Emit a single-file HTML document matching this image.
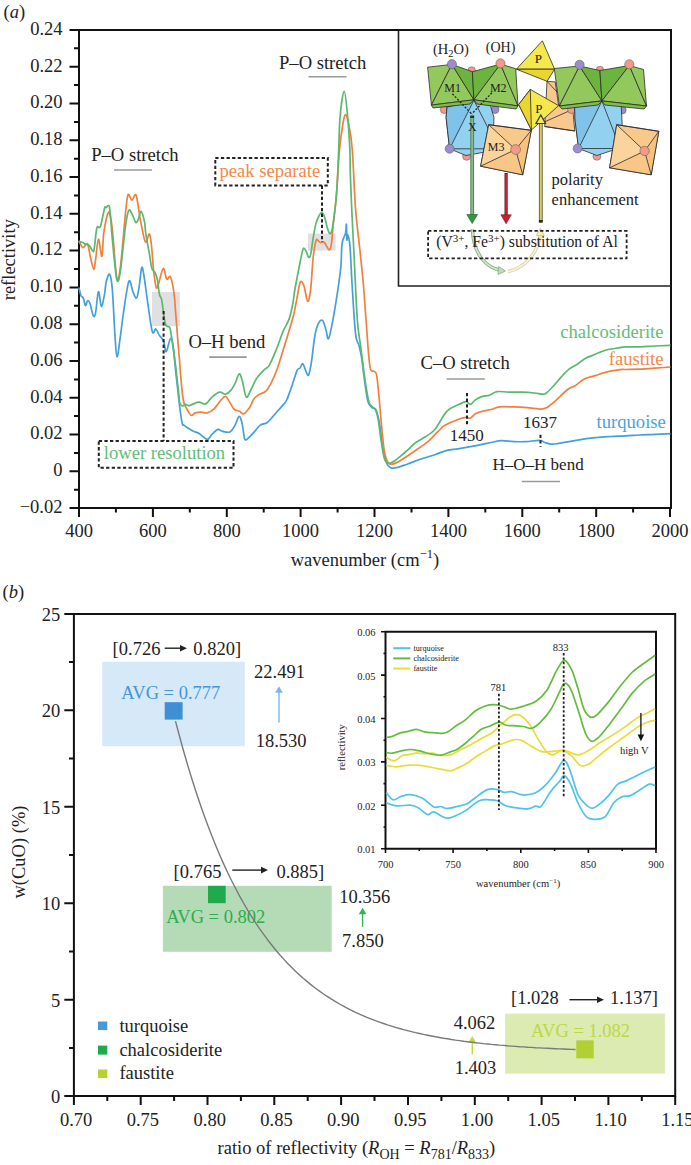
<!DOCTYPE html>
<html><head><meta charset="utf-8"><style>html,body{margin:0;padding:0;background:#fff;width:691px;height:1165px;overflow:hidden}svg{display:block}</style></head>
<body><svg width="691" height="1165" viewBox="0 0 691 1165"><path d="M79,508V30H671V508Z" fill="none" stroke="#111" stroke-width="2"/><path d="M69.5,508.1H79M74,489.7H79M69.5,471.3H79M74,452.9H79M69.5,434.5H79M74,416.1H79M69.5,397.7H79M74,379.4H79M69.5,361H79M74,342.6H79M69.5,324.2H79M74,305.8H79M69.5,287.4H79M74,269H79M69.5,250.6H79M74,232.2H79M69.5,213.8H79M74,195.5H79M69.5,177.1H79M74,158.7H79M69.5,140.3H79M74,121.9H79M69.5,103.5H79M74,85.1H79M69.5,66.7H79M74,48.3H79M69.5,29.9H79M79,508V517M115.9,508V512.5M152.9,508V517M189.8,508V512.5M226.8,508V517M263.7,508V512.5M300.6,508V517M337.6,508V512.5M374.5,508V517M411.5,508V512.5M448.4,508V517M485.3,508V512.5M522.3,508V517M559.2,508V512.5M596.2,508V517M633.1,508V512.5M670,508V517" stroke="#111" stroke-width="2" fill="none"/><g style="font-family:'Liberation Serif',serif;font-size:18.5px" fill="#222"><text x="62.5" y="512.9" text-anchor="end">−0.02</text><text x="62.5" y="476.1" text-anchor="end">0</text><text x="62.5" y="439.3" text-anchor="end">0.02</text><text x="62.5" y="402.5" text-anchor="end">0.04</text><text x="62.5" y="365.8" text-anchor="end">0.06</text><text x="62.5" y="329" text-anchor="end">0.08</text><text x="62.5" y="292.2" text-anchor="end">0.10</text><text x="62.5" y="255.4" text-anchor="end">0.12</text><text x="62.5" y="218.6" text-anchor="end">0.14</text><text x="62.5" y="181.9" text-anchor="end">0.16</text><text x="62.5" y="145.1" text-anchor="end">0.18</text><text x="62.5" y="108.3" text-anchor="end">0.20</text><text x="62.5" y="71.5" text-anchor="end">0.22</text><text x="62.5" y="34.7" text-anchor="end">0.24</text><text x="79" y="536.8" text-anchor="middle">400</text><text x="152.9" y="536.8" text-anchor="middle">600</text><text x="226.8" y="536.8" text-anchor="middle">800</text><text x="300.6" y="536.8" text-anchor="middle">1000</text><text x="374.5" y="536.8" text-anchor="middle">1200</text><text x="448.4" y="536.8" text-anchor="middle">1400</text><text x="522.3" y="536.8" text-anchor="middle">1600</text><text x="596.2" y="536.8" text-anchor="middle">1800</text><text x="670" y="536.8" text-anchor="middle">2000</text></g><text x="3.5" y="17.5" style="font-family:'Liberation Serif',serif;font-size:18.5px" fill="#222">(<tspan font-style="italic">a</tspan>)</text><text transform="translate(15.3,259.7) rotate(-90)" text-anchor="middle" style="font-family:'Liberation Serif',serif;font-size:18.5px" fill="#222">reflectivity</text><text x="290.7" y="565.5" style="font-family:'Liberation Serif',serif;font-size:18.5px" fill="#222">wavenumber (cm<tspan dy="-7.5" font-size="12.5">−1</tspan><tspan dy="7.5">)</tspan></text><rect x="152" y="292" width="27.8" height="34" fill="#e0e0e0"/><rect x="308" y="233.6" width="27.6" height="17" fill="#e0e0e0"/><path d="M78.8,287.4C79.2,288.8 80.3,294.3 81.1,296C81.8,297.7 82.6,296.2 83.3,297.8C84,299.4 84.7,305.1 85.4,305.6C86.1,306.1 86.8,301.3 87.5,300.9C88.2,300.5 88.8,300.6 89.8,303C90.8,305.4 92.2,313.8 93.2,315.5C94.2,317.2 94.6,317.4 95.5,313.4C96.4,309.4 97.4,292.8 98.4,291.7C99.4,290.6 100.4,306.1 101.4,306.5C102.4,306.9 103.7,298.5 104.5,294.3C105.3,290.1 105.4,284.6 106.3,281.3C107.2,278 108.7,273 109.7,274.3C110.7,275.6 111.4,278.8 112.3,289.1C113.2,299.4 114.2,324.7 115,336C115.8,347.3 116.1,356.5 117,356.8C117.9,357.1 119.1,345.2 120.2,337.7C121.3,330.2 122.4,319.8 123.6,311.7C124.8,303.6 126.1,294.2 127.1,289.1C128.1,284 128.7,280.2 129.7,280.8C130.7,281.4 132,289.8 133.2,292.6C134.4,295.4 135.7,299 136.7,297.8C137.7,296.6 138.5,290.6 139.3,285.6C140.1,280.6 140.9,270 141.6,268C142.3,266 142.5,267.4 143.6,273.5C144.7,279.6 146.6,295 148,304.7C149.4,314.4 151,327.6 152.3,331.7C153.6,335.8 154.7,328.4 155.8,329C157,329.6 157.9,333.1 159.2,335.1C160.5,337.1 162.4,338.4 163.6,341.2C164.8,343.9 165,352 166.2,351.6C167.3,351.2 169.3,339.5 170.5,338.6C171.7,337.7 172.2,340.4 173.1,346.4C174,352.4 175,364.8 176.1,374.7C177.2,384.6 178.6,397.9 179.6,406C180.6,414.1 181.5,420.2 182.2,423.4C182.9,426.6 183,424.4 183.9,425.1C184.8,425.8 185.8,426.7 187.4,427.7C189,428.7 191.4,430.2 193.4,431.2C195.4,432.2 197.2,432.4 199.5,433.8C201.8,435.2 205.3,439.2 207.3,439.3C209.3,439.4 209.9,436.4 211.7,434.7C213.4,433 216.1,430 217.8,429.4C219.5,428.8 220.1,430.8 222.1,431.2C224.1,431.6 227.7,433 229.9,432C232.1,431 233.6,427.7 235.1,425.1C236.6,422.5 237.9,416.7 239.1,416.4C240.3,416.1 241.2,419.6 242.1,423.4C243,427.2 243.7,436.6 244.7,439C245.7,441.4 246.8,439.1 248.2,438.1C249.6,437.1 251.4,435.1 253.4,432.9C255.4,430.7 258,426.8 260.3,425.1C262.6,423.4 264.7,424.5 267.3,422.5C269.9,420.5 273.3,415.9 275.9,413C278.5,410.1 281.1,407.3 282.9,405.1C284.7,402.9 285.1,403.5 286.7,400C288.3,396.5 290.8,389.1 292.5,384.2C294.2,379.2 295.9,373 297.1,370.3C298.4,367.6 299,369.1 300,368C301,366.9 301.8,363.1 302.9,363.9C304,364.7 305.4,370.8 306.4,372.6C307.4,374.4 307.9,376.5 308.7,374.9C309.5,373.3 310.3,369.2 311.3,362.9C312.3,356.5 313.6,343.3 314.7,336.8C315.8,330.3 316.9,326.6 318.2,323.8C319.5,321.1 321.2,319.3 322.5,320.3C323.8,321.3 325,326.8 326,329.9C327,332.9 327.4,340.3 328.6,338.6C329.8,336.9 331.6,327 333,319.5C334.4,312 336,302.1 337.3,293.4C338.6,284.7 340,275.7 340.8,267.4C341.6,259.1 341.3,249.1 342.1,243.4C342.9,237.7 344.9,236.2 345.6,233C346.3,229.8 346.2,223.1 346.4,224.3C346.6,225.5 346.7,238.3 346.9,240C347.1,241.7 347.2,233.5 347.7,234.7C348.2,235.8 349.3,238.6 350,246.9C350.7,255.2 351.2,270.3 352.1,284.7C353,299.1 354.4,323.3 355.5,333.4C356.6,343.5 358,341.4 359,345.5C360,349.6 360.7,351.8 361.6,357.7C362.5,363.6 363.5,373.5 364.6,380.8C365.7,388.1 366.7,397.2 368,401.7C369.3,406.2 371.1,406.5 372.4,407.8C373.7,409.1 374.6,407.1 375.8,409.5C377,411.9 378.1,416.3 379.3,422.5C380.5,428.7 381.6,440.1 382.8,446.8C384,453.5 385,459 386.3,462.5C387.6,466 388.9,466.8 390.6,467.7C392.3,468.6 393.9,468.3 396.7,467.7C399.4,467.1 403.1,465.6 407.1,464.2C411.2,462.8 416.4,460.6 421,459C425.6,457.4 430.6,456.1 434.9,454.7C439.2,453.2 442.9,451.3 447,450.3C451.1,449.3 453.9,449.5 459.2,448.6C464.5,447.7 473.6,446.1 478.9,445.1C484.2,444.1 487.2,443.2 491,442.5C494.8,441.8 497.7,440.8 501.5,440.7C505.3,440.6 509.6,441.5 513.6,441.6C517.6,441.8 521.4,441.8 525.8,441.6C530.1,441.4 536.5,440.2 539.7,440.4C542.9,440.5 542.9,441.9 544.9,442.5C546.9,443.1 549.5,444.1 551.8,444.2C554.1,444.3 555.9,443.7 558.8,443.3C561.7,442.9 564.6,442.4 569.2,441.6C573.8,440.8 582,439.4 586.6,438.7C591.2,438 592.6,437.9 596.7,437.5C600.8,437.1 606.4,436.8 611.2,436.5C616,436.2 620.9,436.1 625.7,435.8C630.5,435.6 635.3,435.2 640.1,435C644.9,434.8 649.5,434.5 654.6,434.3C659.7,434.1 667.9,433.7 670.5,433.6" fill="none" stroke="#44a0dc" stroke-width="1.7" stroke-linejoin="round"/><path d="M78.8,240.8C79.5,242 81.5,247.1 82.8,247.7C84,248.3 85.4,244.8 86.3,244.3C87.2,243.9 87.3,242.7 88,245C88.7,247.3 89.6,253.9 90.6,258C91.6,262.1 92.9,269.4 93.8,269.4C94.7,269.4 95,263.1 95.8,258C96.6,252.9 97.4,239.3 98.4,239C99.4,238.7 101,257.3 101.9,256.4C102.8,255.5 102.9,239.9 103.7,233.4C104.5,226.9 105.8,221 106.6,217.5C107.4,214 107.9,213 108.4,212.4C108.9,211.8 109.1,211 109.8,213.9C110.5,216.8 111.2,219.2 112.4,229.8C113.6,240.4 115.4,270.8 116.7,277.3C118,283.8 118.8,279.2 120.2,268.6C121.7,258 124.2,225.6 125.4,213.9C126.6,202.2 126.7,202 127.2,198.7C127.7,195.4 127.8,194.1 128.6,194.3C129.4,194.5 130.8,200 131.9,200.1C133,200.2 134.3,194.9 135.2,194.7C136,194.5 136.2,194.9 137,198.7C137.8,202.5 139.2,213.1 139.9,217.5C140.6,221.9 140.5,220.9 141.4,225C142.3,229.1 144.1,240.5 145.4,242C146.7,243.5 148.4,233.2 149.4,234C150.4,234.8 150.9,240.5 151.6,246.7C152.3,252.9 152.9,264.5 153.7,271.3C154.5,278.1 155.5,285.7 156.3,287.6C157.2,289.5 157.7,286.1 158.8,282.9C160,279.7 161.9,269 163.2,268.4C164.5,267.8 165.7,278 166.8,279.3C167.9,280.6 169,275.6 170,276.4C171,277.2 171.8,280.4 172.6,284.3C173.4,288.2 174.2,295.1 174.7,300C175.2,304.9 174.9,303.9 175.7,313.4C176.4,322.9 178.2,344.9 179.2,356.8C180.2,368.7 180.7,377.4 181.5,385C182.3,392.6 182.6,397.9 183.9,402.5C185.2,407.1 187.8,410.7 189.1,412.9C190.4,415.1 190.7,415.5 191.7,415.5C192.7,415.5 193.6,413.5 195.2,412.9C196.8,412.3 199.3,412.1 201.3,412.1C203.3,412.1 205.1,413.5 207.3,412.9C209.5,412.3 212,410.8 214.3,408.6C216.6,406.4 219.3,401.9 221.2,399.9C223.1,397.9 224.1,396 225.6,396.4C227.1,396.8 228.4,400.3 229.9,402.5C231.4,404.7 232.7,408.1 234.3,409.5C235.9,410.9 237.9,410.5 239.5,411.2C241.1,411.9 242.1,414.5 243.8,413.8C245.5,413.1 248.2,409.3 249.9,406.9C251.6,404.5 252.2,401.2 253.7,399.2C255.2,397.1 256.9,396 258.9,394.6C260.9,393.2 263.8,393.2 265.9,391.1C268,389 269.8,385.8 271.7,381.9C273.6,378 275.6,373.4 277.5,368C279.4,362.6 281.4,355.7 283.3,349.5C285.2,343.3 287.3,336.7 289,330.9C290.7,325.1 292.3,320.3 293.7,314.7C295.1,309.1 296.1,302.4 297.1,297.4C298.1,292.4 298.8,287.2 299.5,284.6C300.2,282 300.7,281.1 301.5,281.5C302.3,281.9 303.3,283.7 304.3,287C305.3,290.3 306.6,300.8 307.7,301.3C308.8,301.8 309.7,297.4 310.6,290C311.5,282.6 312.3,265.2 313.2,257C314.1,248.8 315.2,243.6 316,240.8C316.8,238 317.1,240.1 317.8,240.4C318.5,240.7 319.4,242.2 320.4,242.5C321.4,242.8 322.9,241.5 323.9,242.1C324.9,242.7 325.6,244.7 326.5,246C327.4,247.3 328.3,250 329.1,249.9C329.9,249.8 330.6,248 331.2,245.2C331.8,242.4 332.1,237.3 332.5,233C332.9,228.7 333.2,224.6 333.8,219.1C334.4,213.6 335.4,206.2 336,200C336.6,193.8 336.7,190.4 337.3,182.1C337.9,173.8 338.6,159.8 339.5,150C340.4,140.2 342,129.2 343,123.3C344,117.4 344.7,114.4 345.7,114.6C346.7,114.8 347.7,118.5 348.8,124.4C349.9,130.3 351.2,136 352.3,150C353.4,164 354.2,191.5 355.5,208.2C356.8,224.9 358.6,237.2 359.9,250C361.2,262.8 362.4,273.1 363.4,284.7C364.4,296.3 365.1,307.9 366,319.5C366.9,331.1 367.8,345.8 368.6,354.2C369.4,362.6 369.7,366.8 370.6,369.6C371.5,372.5 373.1,370.3 374.1,371.3C375.1,372.3 375.8,370.8 376.7,375.6C377.6,380.4 378.4,391 379.3,400C380.2,409 381,420.8 381.9,429.5C382.8,438.2 383.5,446.5 384.5,452C385.5,457.5 386.7,460.5 388,462.5C389.3,464.5 390.3,464.5 392.3,464.2C394.3,463.9 396.3,463 400.2,460.7C404.1,458.4 411.2,453.5 415.8,450.3C420.4,447.1 424.1,444.8 427.9,441.6C431.7,438.4 435.5,433.9 438.4,431.2C441.3,428.4 441.8,427.1 445.3,425.1C448.8,423.1 455.7,420.3 459.2,419C462.7,417.7 464.3,417.4 466.1,417.3C467.9,417.2 468.6,418.8 470.2,418.2C471.8,417.6 473.4,415 475.4,413.8C477.4,412.6 479.8,411.9 482.4,411.2C485,410.5 488.1,410.2 491,409.5C493.9,408.8 495.9,407.3 499.7,406.9C503.5,406.5 509,406.8 513.6,406.9C518.2,407 522.9,407.3 527.5,407.7C532.1,408.1 538.2,409.1 541.4,409.1C544.6,409.1 544.5,409 546.9,407.5C549.3,406 552.5,403.3 556,400.3C559.5,397.3 564.5,391.8 567.8,389.3C571.1,386.8 572.8,387.1 575.6,385.4C578.4,383.6 581.5,380.4 584.7,378.8C588,377.2 591.6,376.7 595.1,375.6C598.6,374.5 601.4,373.3 605.5,372.3C609.6,371.3 616.6,370.2 620,369.7C623.4,369.2 622.4,369.6 625.7,369.5C629.1,369.4 635.3,369.4 640.1,369.2C644.9,369 649.5,368.6 654.6,368.2C659.7,367.8 667.9,367.2 670.5,367" fill="none" stroke="#f1803f" stroke-width="1.7" stroke-linejoin="round"/><path d="M78.8,241.7C79.5,241.8 81.7,242.1 82.8,242.5C83.9,242.9 84.4,243.9 85.4,244.3C86.4,244.7 87.7,244.1 88.9,245.1C90.1,246.1 91.5,249.6 92.4,250.3C93.3,251 93.4,253.2 94.1,249.5C94.8,245.8 95.9,232 96.8,228.3C97.7,224.7 98.6,228.1 99.3,227.6C100,227.1 100.2,227.6 100.8,225.5C101.4,223.4 102.3,218.3 103,215.3C103.7,212.3 104.3,208.7 104.8,207.4C105.3,206.1 105.7,208 106.2,207.7C106.7,207.4 107.5,205.7 108,205.6C108.5,205.5 109.1,205 109.5,207C109.9,209 110.1,212 110.6,217.5C111.1,223 111.4,229.8 112.4,240C113.4,250.2 115.4,273.7 116.7,279C118,284.3 118.8,280.7 120.2,272C121.7,263.3 124,237.2 125.4,226.9C126.8,216.6 127.7,212.4 128.8,210.4C130,208.4 131.1,212.7 132.3,214.7C133.5,216.7 134.8,221.8 135.8,222.5C136.8,223.2 137.5,220.9 138.4,219C139.3,217.1 140,210.9 141,211.3C142,211.8 143.7,218 144.5,221.7C145.3,225.4 145,228.3 145.8,233.7C146.6,239.1 148.4,248.1 149.4,253.9C150.4,259.7 150.9,265.2 151.9,268.4C152.9,271.5 154.3,270.9 155.2,272.8C156.1,274.7 156.7,276.4 157.4,280C158.1,283.6 158.8,291.2 159.5,294.5C160.2,297.8 160.7,295.1 161.7,300C162.7,304.9 164,319.2 165.3,323.8C166.6,328.4 168.7,325.3 169.7,327.3C170.7,329.3 170.5,330.5 171.4,336C172.3,341.5 173.8,351.3 174.9,360.3C176.1,369.3 177.5,382.8 178.3,389.8C179.1,396.8 178.9,399.8 179.6,402.5C180.2,405.2 181.2,405.7 182.2,406C183.2,406.3 184.4,404.4 185.6,404.3C186.8,404.2 186.9,406 189.1,405.6C191.3,405.2 195.9,402.5 198.7,402.2C201.4,401.9 203.4,404.7 205.6,403.9C207.8,403.1 209.4,399.3 211.7,397.3C214,395.3 217.2,392.6 219.5,392.1C221.8,391.6 223.7,394.5 225.6,394.2C227.5,393.9 229.2,392.2 230.8,390.4C232.4,388.6 233.7,386.1 235.1,383.4C236.5,380.6 237.9,374.5 239.1,373.9C240.3,373.3 240.9,376.2 242.1,380C243.3,383.8 244.8,395.2 246.2,396.9C247.6,398.6 249.1,393.1 250.8,390C252.5,386.9 254.5,381.7 256.6,378.4C258.7,375.1 261.5,372.5 263.6,370.3C265.7,368.1 267.3,368.6 269.4,365.1C271.5,361.6 274,355.2 276.3,349.5C278.6,343.8 281.2,335.9 283.3,330.9C285.4,325.9 287.5,323.6 289,319.4C290.5,315.2 291.5,310.4 292.5,305.5C293.5,300.6 293.8,296 294.8,290C295.8,284 297.5,275.8 298.7,269.5C299.9,263.2 301.3,255.7 302.2,252.1C303.1,248.5 303.2,248.3 303.9,248.2C304.5,248 305.3,249.7 306.1,251.2C306.9,252.7 307.9,256.9 308.7,257.3C309.5,257.7 310,257.3 310.8,253.8C311.6,250.3 312.5,241.6 313.4,236.5C314.3,231.4 315.1,226.7 316,223.4C316.9,220.1 317.8,218.3 318.7,216.5C319.6,214.7 320.7,212.4 321.7,212.6C322.7,212.8 323.8,214.9 324.7,217.4C325.6,219.9 326.5,225.1 327.3,227.8C328.1,230.5 328.8,232.8 329.5,233.4C330.2,234 331.1,233.2 331.7,231.3C332.3,229.4 332.7,226.9 333.4,221.7C334.1,216.5 335.4,206.6 336,200C336.6,193.4 336.9,190.4 337.3,182.1C337.8,173.8 338.2,161 338.7,150C339.2,139 339.2,126.1 340.1,116.3C341,106.5 342.9,91.4 344.2,91.4C345.4,91.4 346.7,106.5 347.6,116.3C348.6,126.1 349.4,140.5 349.9,150C350.3,159.5 349.9,162.3 350.3,173.4C350.7,184.5 351.5,204 352.1,216.8C352.7,229.6 352.9,232.9 353.8,250C354.7,267.1 356.1,303.3 357.3,319.5C358.5,335.7 359.5,336.8 360.8,347.3C362.1,357.8 364,373.5 365.4,382.6C366.8,391.7 367.7,397.6 368.9,401.7C370.1,405.8 371.2,405.4 372.4,406.9C373.5,408.3 374.8,408.1 375.8,410.4C376.8,412.7 377.5,415.9 378.4,420.8C379.3,425.7 380,433.5 381,439.9C382,446.3 383.2,455.1 384.5,459C385.8,462.9 387.2,463 388.9,463.3C390.6,463.6 392.1,462.6 394.9,460.7C397.6,458.8 401.9,455 405.4,452C408.9,449 412.6,444.9 415.8,442.5C419,440.1 421.3,439.5 424.5,437.3C427.7,435.1 431.1,433.9 434.9,429.5C438.6,425.1 442.9,415.4 447,411.2C451.1,407 456,405.9 459.2,404.3C462.4,402.7 464.2,401.7 466.1,401.7C468,401.7 468.9,404.6 470.5,404.3C472.1,404 473.4,401.2 475.4,399.9C477.4,398.6 480.1,397.2 482.4,396.4C484.7,395.6 486.9,396 489.3,395.2C491.8,394.4 493.9,392.1 497.1,391.6C500.3,391.1 504.2,392 508.4,392.1C512.6,392.2 517.9,392 522.3,392.1C526.6,392.2 531,392.6 534.5,393C538,393.4 541.1,394.3 543.2,394.2C545.3,394.1 545.2,393.9 546.9,392.5C548.6,391.1 551,388.6 553.4,386C555.8,383.4 558.7,379.7 561.3,376.9C563.9,374.1 566.5,371.2 569.1,369.1C571.7,367 574.3,366.2 576.9,364.5C579.5,362.8 582.1,360.2 584.7,358.7C587.3,357.2 589.9,356.5 592.5,355.4C595.1,354.3 597.7,353.1 600.3,352.1C602.9,351.1 604.8,350.2 608.1,349.5C611.4,348.8 617.1,348.1 620,347.6C622.9,347.2 622.4,346.9 625.7,346.8C629.1,346.7 635.3,346.9 640.1,346.8C644.9,346.7 649.5,346.2 654.6,346C659.7,345.8 667.9,345.4 670.5,345.3" fill="none" stroke="#5bb871" stroke-width="1.7" stroke-linejoin="round"/><path d="M114,170H152M308.5,76.7H346.5M209.2,357.1H246.7M446.6,379H484.9M521.8,481.5H560" stroke="#999" stroke-width="1.6"/><rect x="215.3" y="158" width="112.5" height="27.4" stroke="#222" stroke-width="2" stroke-dasharray="3.3,2.3" fill="none"/><rect x="98.8" y="441" width="134.7" height="26.8" stroke="#222" stroke-width="2" stroke-dasharray="3.3,2.3" fill="none"/><path d="M322,185.6V242.1M163.6,311V441" stroke="#222" stroke-width="2" stroke-dasharray="3.3,2.3" fill="none"/><path d="M467,393V426M540.5,434.7V446.8" stroke="#222" stroke-width="2" stroke-dasharray="3.3,2.3" fill="none"/><text x="91.2" y="161" style="font-family:'Liberation Serif',serif;font-size:18.6px" fill="#222">P–O stretch</text><text x="279" y="68.6" style="font-family:'Liberation Serif',serif;font-size:18.6px" fill="#222">P–O stretch</text><text x="219.5" y="177.2" style="font-family:'Liberation Serif',serif;font-size:18.6px" fill="#f2884a">peak separate</text><text x="188.4" y="348" style="font-family:'Liberation Serif',serif;font-size:18.6px" fill="#222">O–H bend</text><text x="103.8" y="459.2" style="font-family:'Liberation Serif',serif;font-size:18.6px" fill="#62bd78">lower resolution</text><text x="663.5" y="337.8" text-anchor="end" style="font-family:'Liberation Serif',serif;font-size:18.6px" fill="#62bd78">chalcosiderite</text><text x="663.5" y="365.2" text-anchor="end" style="font-family:'Liberation Serif',serif;font-size:18.6px" fill="#f2884a">faustite</text><text x="665.8" y="428" text-anchor="end" style="font-family:'Liberation Serif',serif;font-size:18.6px" fill="#4aa3dc">turquoise</text><text x="420.5" y="368.7" style="font-family:'Liberation Serif',serif;font-size:18.6px" fill="#222">C–O stretch</text><text x="449.8" y="440.7" style="font-family:'Liberation Serif',serif;font-size:17px" fill="#222">1450</text><text x="523.1" y="427.5" style="font-family:'Liberation Serif',serif;font-size:17px" fill="#222">1637</text><text x="492.5" y="470.3" style="font-family:'Liberation Serif',serif;font-size:17px" fill="#222">H–O–H bend</text><path d="M398.5,30V286H671" fill="none" stroke="#222" stroke-width="1.6"/><circle cx="444.3" cy="109.5" r="4" fill="#f2998a" stroke="#555" stroke-width="0.5"/><circle cx="466.6" cy="156.3" r="4" fill="#f2998a" stroke="#555" stroke-width="0.5"/><circle cx="495" cy="109.5" r="4" fill="#9b8ccb" stroke="#555" stroke-width="0.5"/><polygon points="447,107.2 473.9,100.2 490.4,105.4 494,117.6 493,140 483.4,152.3 466,155.5 449.6,148.8 446.1,117.6" fill="#93d1f1" stroke="#2b2b2b" stroke-width="0.8" stroke-linejoin="round"/><polygon points="447,107.2 473.9,100.2 449.6,148.8 446.1,117.6" fill="#7fc3ea" stroke="#2b2b2b" stroke-width="0.8" stroke-linejoin="round"/><polyline points="473.9,100.2 489,130" fill="none" stroke="#2b2b2b" stroke-width="0.8" stroke-linejoin="round"/><polyline points="449.6,148.8 484,148.8" fill="none" stroke="#2b2b2b" stroke-width="0.8" stroke-linejoin="round"/><circle cx="449.6" cy="148.8" r="4.5" fill="#9b8ccb" stroke="#555" stroke-width="0.5"/><circle cx="471.7" cy="70.5" r="3.8" fill="#f2998a" stroke="#555" stroke-width="0.5"/><polygon points="427.6,67.2 451.9,64.4 431.4,105.1" fill="#93c95c" stroke="#2b2b2b" stroke-width="0.8" stroke-linejoin="round"/><polygon points="451.9,64.4 473.9,99.8 431.4,105.1" fill="#93c95c" stroke="#2b2b2b" stroke-width="0.8" stroke-linejoin="round"/><polygon points="451.9,64.4 472.4,71.7 473.9,99.8" fill="#6db43e" stroke="#2b2b2b" stroke-width="0.8" stroke-linejoin="round"/><polygon points="431.4,105.1 473.9,99.8 470,104 433,108" fill="#7dbd48" stroke="#2b2b2b" stroke-width="0.8" stroke-linejoin="round"/><polygon points="472.4,71.7 500.5,64.1 473.9,99.8" fill="#6db43e" stroke="#2b2b2b" stroke-width="0.8" stroke-linejoin="round"/><polygon points="500.5,64.1 518,105.9 473.9,99.8" fill="#93c95c" stroke="#2b2b2b" stroke-width="0.8" stroke-linejoin="round"/><polygon points="500.5,64.1 515.7,68.7 518,105.9" fill="#93c95c" stroke="#2b2b2b" stroke-width="0.8" stroke-linejoin="round"/><polygon points="473.9,99.8 518,105.9 516,109 477,104" fill="#7dbd48" stroke="#2b2b2b" stroke-width="0.8" stroke-linejoin="round"/><circle cx="451.9" cy="64.2" r="4.6" fill="#9b8ccb" stroke="#555" stroke-width="0.5"/><circle cx="500.5" cy="63.4" r="4.6" fill="#f2998a" stroke="#555" stroke-width="0.5"/><polygon points="547,81.3 555.2,81.9 558.6,105.6 572.5,106.8 574.8,131 544.7,126.5" fill="#f9c88c" stroke="#2b2b2b" stroke-width="0.8" stroke-linejoin="round"/><polyline points="547,81.3 557,92" fill="none" stroke="#2b2b2b" stroke-width="0.8" stroke-linejoin="round"/><polyline points="542,123 569,111" fill="none" stroke="#2b2b2b" stroke-width="0.8" stroke-linejoin="round"/><polyline points="544.7,126.5 574.8,131" fill="none" stroke="#2b2b2b" stroke-width="0.8" stroke-linejoin="round"/><polygon points="516.4,69.2 542.4,40.8 554.6,69.2" fill="#f4e84c" stroke="#2b2b2b" stroke-width="0.8" stroke-linejoin="round"/><polygon points="516.4,69.2 554.6,69.2 547,81.3" fill="#ead62e" stroke="#2b2b2b" stroke-width="0.8" stroke-linejoin="round"/><polygon points="518.7,104.5 530.3,89.4 558.6,105.6 531.4,130" fill="#f4e84c" stroke="#2b2b2b" stroke-width="0.8" stroke-linejoin="round"/><polygon points="518.7,104.5 530.3,89.4 531.4,130" fill="#ead62e" stroke="#2b2b2b" stroke-width="0.8" stroke-linejoin="round"/><polygon points="488.7,124.7 531.3,130.3 522.7,174.8 480.6,166.2" fill="#f9c98b" stroke="#2b2b2b" stroke-width="0.8" stroke-linejoin="round"/><polygon points="488.7,124.7 515.6,149.5 480.6,166.2" fill="#fbd49d"/><polygon points="480.6,166.2 515.6,149.5 522.7,174.8" fill="#f8c686"/><polygon points="531.3,130.3 515.6,149.5 522.7,174.8" fill="#f7c17e"/><polygon points="488.7,124.7 531.3,130.3 522.7,174.8 480.6,166.2" fill="none" stroke="#2b2b2b" stroke-width="0.8" stroke-linejoin="round"/><polyline points="488.7,124.7 515.6,149.5 531.3,130.3" fill="none" stroke="#2b2b2b" stroke-width="0.8" stroke-linejoin="round"/><polyline points="480.6,166.2 515.6,149.5 522.7,174.8" fill="none" stroke="#2b2b2b" stroke-width="0.8" stroke-linejoin="round"/><circle cx="515.6" cy="149.5" r="4.9" fill="#f2998a" stroke="#555" stroke-width="0.5"/><circle cx="571.5" cy="109.5" r="4" fill="#f2998a" stroke="#555" stroke-width="0.5"/><circle cx="596.9" cy="156.3" r="4" fill="#f2998a" stroke="#555" stroke-width="0.5"/><circle cx="622.2" cy="110" r="4" fill="#9b8ccb" stroke="#555" stroke-width="0.5"/><polygon points="574.6,107 601.9,100.9 621.2,105 622.2,125 615,149.5 596.9,155.5 578.6,148.5 575,120" fill="#93d1f1" stroke="#2b2b2b" stroke-width="0.8" stroke-linejoin="round"/><polygon points="574.6,107 601.9,100.9 578.6,148.5 575,120" fill="#7fc3ea" stroke="#2b2b2b" stroke-width="0.8" stroke-linejoin="round"/><polyline points="601.9,100.9 617,140" fill="none" stroke="#2b2b2b" stroke-width="0.8" stroke-linejoin="round"/><polyline points="578.6,148.5 615,148.5" fill="none" stroke="#2b2b2b" stroke-width="0.8" stroke-linejoin="round"/><circle cx="577.6" cy="148.5" r="4.5" fill="#9b8ccb" stroke="#555" stroke-width="0.5"/><circle cx="599.9" cy="70" r="3.8" fill="#f2998a" stroke="#555" stroke-width="0.5"/><polygon points="554.3,68.5 579.6,66 559.4,106" fill="#93c95c" stroke="#2b2b2b" stroke-width="0.8" stroke-linejoin="round"/><polygon points="579.6,66 601.9,100.9 559.4,106" fill="#93c95c" stroke="#2b2b2b" stroke-width="0.8" stroke-linejoin="round"/><polygon points="579.6,66 599.9,70.5 601.9,100.9" fill="#6db43e" stroke="#2b2b2b" stroke-width="0.8" stroke-linejoin="round"/><polygon points="559.4,106 601.9,100.9 598,105 562,109" fill="#7dbd48" stroke="#2b2b2b" stroke-width="0.8" stroke-linejoin="round"/><polygon points="599.9,70.5 629.3,65.5 601.9,100.9" fill="#6db43e" stroke="#2b2b2b" stroke-width="0.8" stroke-linejoin="round"/><polygon points="629.3,65.5 646.5,106 601.9,100.9" fill="#93c95c" stroke="#2b2b2b" stroke-width="0.8" stroke-linejoin="round"/><polygon points="629.3,65.5 643.5,69.5 646.5,106" fill="#93c95c" stroke="#2b2b2b" stroke-width="0.8" stroke-linejoin="round"/><polygon points="601.9,100.9 646.5,106 644,109 605,105" fill="#7dbd48" stroke="#2b2b2b" stroke-width="0.8" stroke-linejoin="round"/><circle cx="579.6" cy="64.8" r="4.6" fill="#9b8ccb" stroke="#555" stroke-width="0.5"/><circle cx="629.3" cy="64.3" r="4.6" fill="#f2998a" stroke="#555" stroke-width="0.5"/><polygon points="616.7,124.7 658.8,131.3 651.2,174.8 609.6,167.8" fill="#f9c98b" stroke="#2b2b2b" stroke-width="0.8" stroke-linejoin="round"/><polygon points="616.7,124.7 644.6,151 609.6,167.8" fill="#fbd49d"/><polygon points="609.6,167.8 644.6,151 651.2,174.8" fill="#f8c686"/><polygon points="658.8,131.3 644.6,151 651.2,174.8" fill="#f7c17e"/><polygon points="616.7,124.7 658.8,131.3 651.2,174.8 609.6,167.8" fill="none" stroke="#2b2b2b" stroke-width="0.8" stroke-linejoin="round"/><polyline points="616.7,124.7 644.6,151 658.8,131.3" fill="none" stroke="#2b2b2b" stroke-width="0.8" stroke-linejoin="round"/><polyline points="609.6,167.8 644.6,151 651.2,174.8" fill="none" stroke="#2b2b2b" stroke-width="0.8" stroke-linejoin="round"/><circle cx="644.6" cy="151" r="4.7" fill="#f2998a" stroke="#555" stroke-width="0.5"/><path d="M452.4,93.8L471.7,114M491.9,92.8L471.7,114" stroke="#222" stroke-width="1.3" stroke-dasharray="2,1.6" fill="none"/><rect x="470.3" y="116" width="3.8" height="100" fill="#557f58"/><rect x="471.3" y="117" width="1.8" height="98" fill="#8db98a"/><rect x="470.3" y="115.5" width="3.8" height="2.5" fill="#1d3a20"/><polygon points="466.8,214.5 477.6,214.5 472.2,223.5" fill="#2e9a40" stroke="#1f5a28" stroke-width="0.6"/><rect x="504.5" y="173" width="3.2" height="43" fill="#6e1a1e"/><rect x="505.3" y="174" width="1.6" height="41" fill="#cf2533"/><polygon points="500.9,214.8 511.3,214.8 506.1,223.8" fill="#c8202e" stroke="#6e1a1e" stroke-width="0.6"/><rect x="538.9" y="122" width="3.8" height="100.5" fill="#6a6230"/><rect x="539.8" y="122" width="2" height="99" fill="#d6ca6e"/><rect x="538.9" y="220" width="3.8" height="2.5" fill="#2a2818"/><polygon points="536,123.5 545.5,123.5 540.8,115" fill="#f3ea60" stroke="#3c3a20" stroke-width="1.2"/><path d="M472.5,229 C473,255 487,268 501,270.5" fill="none" stroke="#86ad80" stroke-width="3.4"/><path d="M472.5,229 C473,255 487,268 501,270.5" fill="none" stroke="#d2e6cb" stroke-width="1.7"/><polygon points="498.5,266.5 505.5,271 498,274.5" fill="#c4dcbc" stroke="#86ad80" stroke-width="0.8"/><path d="M508,271.5 C524,268 538,254 540,235" fill="none" stroke="#d8d29a" stroke-width="3.4"/><path d="M508,271.5 C524,268 538,254 540,235" fill="none" stroke="#f7f4d6" stroke-width="1.7"/><polygon points="536.3,235.5 544.3,235.5 540.4,228.3" fill="#f5f0b8" stroke="#c9c07a" stroke-width="0.8"/><rect x="428.1" y="230.9" width="198.5" height="27.4" fill="none" stroke="#222" stroke-width="1.8" stroke-dasharray="3.3,2.3"/><text x="433" y="53.5" style="font-family:'Liberation Serif',serif;font-size:14.5px" fill="#222">(H<tspan dy="3.5" font-size="10.5">2</tspan><tspan dy="-3.5">O)</tspan></text><text x="485.8" y="52.3" style="font-family:'Liberation Serif',serif;font-size:14px" fill="#222">(OH)</text><text x="444.3" y="91.8" style="font-family:'Liberation Serif',serif;font-size:12px" fill="#222">M1</text><text x="489.9" y="91.8" style="font-family:'Liberation Serif',serif;font-size:12px" fill="#222">M2</text><text x="487.8" y="151.2" style="font-family:'Liberation Serif',serif;font-size:12px" fill="#222">M3</text><text x="468" y="131.3" style="font-family:'Liberation Serif',serif;font-size:12px" fill="#222">X</text><text x="534.8" y="63" style="font-family:'Liberation Serif',serif;font-size:13px" fill="#222">P</text><text x="535.3" y="112.5" style="font-family:'Liberation Serif',serif;font-size:13px" fill="#222">P</text><text x="551.6" y="184.6" style="font-family:'Liberation Serif',serif;font-size:16.5px" fill="#222">polarity</text><text x="551.6" y="205.3" style="font-family:'Liberation Serif',serif;font-size:16.5px" fill="#222">enhancement</text><text x="436.2" y="247.2" style="font-family:'Liberation Serif',serif;font-size:15.7px" fill="#222">(V<tspan dy="-5.5" font-size="11">3+</tspan><tspan dy="5.5">, Fe</tspan><tspan dy="-5.5" font-size="11">3+</tspan><tspan dy="5.5">) substitution of Al</tspan></text><path d="M73.9,1096.1V613.9H675.2V1096.1Z" fill="none" stroke="#111" stroke-width="2"/><path d="M64.3,1096.1H73.9M69,1047.9H73.9M64.3,999.7H73.9M69,951.4H73.9M64.3,903.2H73.9M69,855H73.9M64.3,806.8H73.9M69,758.6H73.9M64.3,710.3H73.9M69,662.1H73.9M64.3,613.9H73.9M73.9,1096.1V1105M107.3,1096.1V1101M140.7,1096.1V1105M174.1,1096.1V1101M207.5,1096.1V1105M240.9,1096.1V1101M274.3,1096.1V1105M307.7,1096.1V1101M341.1,1096.1V1105M374.5,1096.1V1101M408,1096.1V1105M441.4,1096.1V1101M474.8,1096.1V1105M508.2,1096.1V1101M541.6,1096.1V1105M575,1096.1V1101M608.4,1096.1V1105M641.8,1096.1V1101M675.2,1096.1V1105" stroke="#111" stroke-width="2" fill="none"/><g style="font-family:'Liberation Serif',serif;font-size:18.5px" fill="#222"><text x="60.3" y="1103" text-anchor="end">0</text><text x="60.3" y="1006.6" text-anchor="end">5</text><text x="60.3" y="910.1" text-anchor="end">10</text><text x="60.3" y="813.7" text-anchor="end">15</text><text x="60.3" y="717.2" text-anchor="end">20</text><text x="60.3" y="620.8" text-anchor="end">25</text><text x="76.1" y="1126" text-anchor="middle">0.70</text><text x="142.9" y="1126" text-anchor="middle">0.75</text><text x="209.7" y="1126" text-anchor="middle">0.80</text><text x="276.5" y="1126" text-anchor="middle">0.85</text><text x="343.3" y="1126" text-anchor="middle">0.90</text><text x="410.2" y="1126" text-anchor="middle">0.95</text><text x="477" y="1126" text-anchor="middle">1.00</text><text x="543.8" y="1126" text-anchor="middle">1.05</text><text x="610.6" y="1126" text-anchor="middle">1.10</text><text x="677.4" y="1126" text-anchor="middle">1.15</text></g><text x="2.5" y="598.3" style="font-family:'Liberation Serif',serif;font-size:18.5px" fill="#222">(<tspan font-style="italic">b</tspan>)</text><text transform="translate(25,852) rotate(-90)" text-anchor="middle" style="font-family:'Liberation Serif',serif;font-size:18.5px" fill="#222">w(CuO) (%)</text><text x="217.6" y="1154.3" style="font-family:'Liberation Serif',serif;font-size:18.5px" fill="#222">ratio of reflectivity (<tspan font-style="italic">R</tspan><tspan dy="5" font-size="14">OH</tspan><tspan dy="-5"> = </tspan><tspan font-style="italic">R</tspan><tspan dy="5" font-size="14">781</tspan><tspan dy="-5">/</tspan><tspan font-style="italic">R</tspan><tspan dy="5" font-size="14">833</tspan><tspan dy="-5">)</tspan></text><rect x="102.2" y="661.7" width="142.6" height="84.5" fill="#d6e9f8"/><rect x="162.9" y="885.8" width="168.8" height="66" fill="#b4dbb5"/><rect x="505.1" y="1013.6" width="159.8" height="60" fill="#dcebb1"/><text x="112.6" y="654.6" style="font-family:'Liberation Serif',serif;font-size:18.5px" fill="#222">[0.726</text><text x="241.1" y="654.6" text-anchor="end" style="font-family:'Liberation Serif',serif;font-size:18.5px" fill="#222">0.820]</text><path d="M164.7,648.2H181" stroke="#222" stroke-width="1.4"/><polygon points="180,644.9000000000001 187,648.2 180,651.5" fill="#222"/><text x="173.6" y="878.3" style="font-family:'Liberation Serif',serif;font-size:18.5px" fill="#222">[0.765</text><text x="324.2" y="878.3" text-anchor="end" style="font-family:'Liberation Serif',serif;font-size:18.5px" fill="#222">0.885]</text><path d="M232.3,870.0999999999999H262" stroke="#222" stroke-width="1.4"/><polygon points="261,866.8 268,870.0999999999999 261,873.3999999999999" fill="#222"/><text x="511" y="1004.3" style="font-family:'Liberation Serif',serif;font-size:18.5px" fill="#222">[1.028</text><text x="657.9" y="1004.3" text-anchor="end" style="font-family:'Liberation Serif',serif;font-size:18.5px" fill="#222">1.137]</text><path d="M569.4,999.6999999999999H598" stroke="#222" stroke-width="1.4"/><polygon points="597,996.4 604,999.6999999999999 597,1002.9999999999999" fill="#222"/><text x="121.3" y="699.3" style="font-family:'Liberation Serif',serif;font-size:18.5px" fill="#4595d8">AVG = 0.777</text><text x="166.3" y="923.4" style="font-family:'Liberation Serif',serif;font-size:18.5px" fill="#2aae4e">AVG = 0.802</text><text x="531.1" y="1036.9" style="font-family:'Liberation Serif',serif;font-size:18.5px" fill="#bcd747">AVG = 1.082</text><text x="254" y="678.4" style="font-family:'Liberation Serif',serif;font-size:18.5px" fill="#222">22.491</text><text x="255.7" y="746.6" style="font-family:'Liberation Serif',serif;font-size:18.5px" fill="#222">18.530</text><text x="339.3" y="902.6" style="font-family:'Liberation Serif',serif;font-size:18.5px" fill="#222">10.356</text><text x="342" y="947" style="font-family:'Liberation Serif',serif;font-size:18.5px" fill="#222">7.850</text><text x="453.7" y="1029.1" style="font-family:'Liberation Serif',serif;font-size:18.5px" fill="#222">4.062</text><text x="454.7" y="1074.4" style="font-family:'Liberation Serif',serif;font-size:18.5px" fill="#222">1.403</text><path d="M279,722.5V691.3" stroke="#7ab8e6" stroke-width="1.4"/><polygon points="275.2,692.8 279,686.3 282.8,692.8" fill="#7ab8e6"/><path d="M362.6,926.8V912.7" stroke="#33b359" stroke-width="1.4"/><polygon points="358.8,914.2 362.6,907.7 366.40000000000003,914.2" fill="#33b359"/><path d="M472.3,1054.4V1041" stroke="#c6da3c" stroke-width="1.4"/><polygon points="468.5,1042.5 472.3,1036 476.1,1042.5" fill="#c6da3c"/><path d="M175.5,721.1 L179.5,736.2 L183.5,750.7 L187.5,764.5 L191.5,777.7 L195.5,790.3 L199.5,802.3 L203.5,813.7 L207.5,824.6 L211.5,835.1 L215.5,845.0 L219.5,854.5 L223.5,863.6 L227.5,872.2 L231.5,880.5 L235.5,888.3 L239.5,895.9 L243.5,903.0 L247.5,909.9 L251.5,916.4 L255.5,922.6 L259.5,928.6 L263.5,934.2 L267.5,939.7 L271.5,944.8 L275.5,949.8 L279.5,954.5 L283.5,958.9 L287.5,963.2 L291.5,967.3 L295.5,971.2 L299.5,974.9 L303.5,978.5 L307.5,981.9 L311.5,985.1 L315.5,988.2 L319.5,991.1 L323.5,994.0 L327.5,996.6 L331.5,999.2 L335.5,1001.6 L339.5,1004.0 L343.5,1006.2 L347.5,1008.3 L351.5,1010.3 L355.5,1012.3 L359.5,1014.1 L363.5,1015.9 L367.5,1017.6 L371.5,1019.2 L375.5,1020.7 L379.5,1022.1 L383.5,1023.5 L387.5,1024.9 L391.5,1026.1 L395.5,1027.3 L399.5,1028.5 L403.5,1029.6 L407.5,1030.6 L411.5,1031.6 L415.5,1032.6 L419.5,1033.5 L423.5,1034.4 L427.5,1035.2 L431.5,1036.0 L435.5,1036.8 L439.5,1037.5 L443.5,1038.2 L447.5,1038.8 L451.5,1039.5 L455.5,1040.1 L459.5,1040.6 L463.5,1041.2 L467.5,1041.7 L471.5,1042.2 L475.5,1042.7 L479.5,1043.1 L483.5,1043.6 L487.5,1044.0 L491.5,1044.4 L495.5,1044.7 L499.5,1045.1 L503.5,1045.4 L507.5,1045.8 L511.5,1046.1 L515.5,1046.4 L519.5,1046.7 L523.5,1046.9 L527.5,1047.2 L531.5,1047.4 L535.5,1047.7 L539.5,1047.9 L543.5,1048.1 L547.5,1048.3 L551.5,1048.5 L555.5,1048.7 L559.5,1048.9 L563.5,1049.0 L567.5,1049.2 L571.5,1049.4 L575.5,1049.5" fill="none" stroke="#7a7a7a" stroke-width="1.4" stroke-linejoin="round"/><rect x="164.7" y="702.2" width="17.9" height="17.4" fill="#3f8fd4"/><rect x="208" y="885.8" width="17.7" height="17.4" fill="#20aa4b"/><rect x="576.3" y="1040.4" width="17.4" height="18" fill="#b2d033"/><rect x="98" y="1021.5" width="9.3" height="8.6" fill="#4a98d6"/><rect x="98" y="1045.6" width="9.3" height="9" fill="#1faa4a"/><rect x="98" y="1069.5" width="9.3" height="8.6" fill="#b4d136"/><text x="119.4" y="1032.4" style="font-family:'Liberation Serif',serif;font-size:18.5px" fill="#222">turquoise</text><text x="119.4" y="1055.6" style="font-family:'Liberation Serif',serif;font-size:18.5px" fill="#222">chalcosiderite</text><text x="119.4" y="1078.7" style="font-family:'Liberation Serif',serif;font-size:18.5px" fill="#222">faustite</text><path d="M385.5,848.7V631.7H656V848.7Z" fill="none" stroke="#111" stroke-width="2"/><path d="M381,848.7H385.5M383.5,827.0H385.5M381,805.3H385.5M383.5,783.6H385.5M381,761.9H385.5M383.5,740.2H385.5M381,718.5H385.5M383.5,696.8H385.5M381,675.1H385.5M383.5,653.4H385.5M381,631.7H385.5M385.5,848.7V853M419.3,848.7V851M453.1,848.7V853M486.9,848.7V851M520.8,848.7V853M554.6,848.7V851M588.4,848.7V853M622.2,848.7V851M656.0,848.7V853" stroke="#111" stroke-width="1.6" fill="none"/><g style="font-family:'Liberation Serif',serif;font-size:10.5px" fill="#222"><text x="375.5" y="853.1" text-anchor="end">0.01</text><text x="375.5" y="809.7" text-anchor="end">0.02</text><text x="375.5" y="766.3" text-anchor="end">0.03</text><text x="375.5" y="722.9" text-anchor="end">0.04</text><text x="375.5" y="679.5" text-anchor="end">0.05</text><text x="375.5" y="636.1" text-anchor="end">0.06</text><text x="385.5" y="867.7" text-anchor="middle">700</text><text x="453.1" y="867.7" text-anchor="middle">750</text><text x="520.8" y="867.7" text-anchor="middle">800</text><text x="588.4" y="867.7" text-anchor="middle">850</text><text x="656.0" y="867.7" text-anchor="middle">900</text></g><text transform="translate(345.3,747.3) rotate(-90)" text-anchor="middle" style="font-family:'Liberation Serif',serif;font-size:10.5px" fill="#222">reflectivity</text><text x="476" y="886.6" style="font-family:'Liberation Serif',serif;font-size:10.5px" fill="#222">wavenumber (cm<tspan dy="-4" font-size="7">−1</tspan><tspan dy="4">)</tspan></text><path d="M386.1,757.2C387.5,757.8 391.5,761.1 394.2,760.8C396.9,760.5 399.9,756.5 402.3,755.5C404.7,754.5 406,755 408.4,754.6C410.8,754.2 413.8,753.3 416.5,753.1C419.2,752.9 421.9,753.6 424.6,753.6C427.3,753.6 430,752.9 432.7,753.2C435.4,753.5 437.8,755.2 440.8,755.4C443.8,755.6 447.5,755.6 450.9,754.6C454.3,753.6 457.6,751.2 461,749.5C464.4,747.8 467.8,746.4 471.2,744.5C474.6,742.6 477.9,740.3 481.3,738.4C484.7,736.5 488,735.7 491.4,733.3C494.8,730.9 498.6,726.9 501.6,724.2C504.7,721.5 507.3,718.7 509.7,717.1C512,715.5 513.8,714.9 515.7,714.7C517.6,714.5 519,714.4 521.3,716C523.6,717.6 526.9,720.5 529.7,724.4C532.5,728.2 535.3,734.5 538.1,739.1C540.9,743.7 544,749.1 546.5,751.7C549,754.3 550.3,755 552.8,754.8C555.2,754.6 558.8,751.2 561.2,750.6C563.7,750 564.7,750.6 567.5,751.3C570.3,752 574.5,754.9 578,754.8C581.5,754.7 584.9,752.5 588.4,750.6C591.9,748.7 595.4,745.6 598.9,743.3C602.4,741 605.2,739.6 609.4,737C613.6,734.4 619.5,730.8 624.1,727.6C628.7,724.5 632.9,720.6 636.7,718.1C640.6,715.6 644.1,714.5 647.2,712.9C650.3,711.3 653.9,709.4 655.2,708.7" fill="none" stroke="#e9dc35" stroke-width="1.7"/><path d="M386.1,765.3C387.8,765.5 392.8,766.8 396.2,766.8C399.6,766.8 402.2,765.5 406.3,765.3C410.4,765 415.4,764.8 420.5,765.3C425.6,765.8 431.8,767.5 436.7,768.4C441.6,769.3 446.5,770.8 449.9,770.8C453.3,770.8 454.1,769.6 457,768.4C459.9,767.1 464.1,765.2 467.1,763.3C470.1,761.4 472.2,759.2 475.2,757.2C478.2,755.2 482.2,753 485.3,751.1C488.4,749.2 490.8,747.3 493.5,746.1C496.2,744.9 498.6,745 501.6,744C504.6,743 509,741.1 511.7,740.4C514.4,739.6 515.8,739.4 517.8,739.5C519.8,739.6 521.1,740.1 523.4,741.2C525.7,742.4 528.6,744.6 531.8,746.4C534.9,748.1 538.8,750.9 542.3,751.7C545.8,752.5 549.3,751.5 552.8,751.3C556.3,751.1 560.1,749.8 563.3,750.6C566.4,751.4 568.9,753.5 571.7,755.9C574.5,758.3 577.2,763.9 580,765.3C582.8,766.7 585.2,765.9 588.4,764.3C591.5,762.7 595.4,758.7 598.9,755.9C602.4,753.1 605.2,750.6 609.4,747.5C613.6,744.4 619.5,740.3 624.1,737C628.7,733.7 632.9,730.1 636.7,727.6C640.6,725.1 644.1,723.5 647.2,722.3C650.3,721.1 653.9,720.6 655.2,720.2" fill="none" stroke="#e9dc35" stroke-width="1.7"/><path d="M386.1,737.4C387.1,737.2 389.8,737.1 392.2,736.4C394.6,735.6 397.6,733.8 400.3,732.9C403,732 405.7,731.9 408.4,731.3C411.1,730.7 413.8,729.2 416.5,729.3C419.2,729.4 421.9,731.3 424.6,731.9C427.3,732.5 430,732.5 432.7,732.7C435.4,732.9 438.4,733.4 440.8,733.3C443.2,733.2 444.2,733.6 446.9,732.3C449.6,730.9 454,727.2 457,725.2C460,723.2 462.1,722.6 465.1,720.2C468.1,717.8 471.8,713.4 475.2,711C478.6,708.6 482.2,707.1 485.3,706C488.4,704.9 490.8,704.6 493.5,704.6C496.2,704.6 498.9,705.3 501.6,706C504.3,706.7 507.5,708.6 509.7,709C511.9,709.4 512.4,709.1 515,708.5C517.6,707.9 522,706.7 525.5,705.5C529,704.3 532.5,703.8 536,701.3C539.5,698.8 543,696 546.5,690.8C550,685.6 554,675 557,669.9C560,664.8 561.8,660.4 564.3,660.4C566.8,660.4 569.4,665.2 571.7,669.9C574,674.6 575.9,682.2 578,688.8C580.1,695.4 582.1,705 584.2,709.7C586.3,714.4 588.4,716.2 590.5,717.1C592.6,718 594,717.3 596.8,715C599.6,712.7 603.4,708.1 607.3,703.4C611.1,698.7 615.7,691.9 619.9,686.7C624.1,681.5 628.3,676 632.5,672C636.7,668 641.3,665.3 645.1,662.5C648.9,659.7 653.5,656.4 655.2,655.2" fill="none" stroke="#63bd3c" stroke-width="1.7"/><path d="M386.1,752.6C387.1,752.7 389.8,753.4 392.2,753.2C394.6,753 397.3,751.8 400.3,751.2C403.3,750.6 407,749.5 410.4,749.5C413.8,749.5 417.1,750.5 420.5,751.2C423.9,752 427.2,753.3 430.6,754C434,754.7 437.4,755.6 440.8,755.2C444.2,754.8 448.2,752.6 450.9,751.6C453.6,750.6 454.6,750.9 457,749.5C459.4,748.1 462.4,745.7 465.1,743.5C467.8,741.3 470.5,738.8 473.2,736.4C475.9,734 478.6,731 481.3,729.3C484,727.6 486.4,727.4 489.4,726.2C492.4,725 496.8,722.4 499.5,722.2C502.2,722 503.2,724.6 505.6,725.2C508,725.8 510.7,725.4 513.7,725.6C516.7,725.8 520.4,726.1 523.4,726.5C526.4,726.9 529,728.9 531.8,728.2C534.6,727.5 537.1,725.4 540.2,722.3C543.4,719.2 547.6,714.6 550.7,709.7C553.9,704.8 556.8,697.3 559.1,692.9C561.4,688.5 562.4,684.2 564.3,683.5C566.2,682.8 568.3,684.4 570.6,688.8C572.9,693.2 575.5,702.4 578,709.7C580.5,717 583,727.5 585.3,732.8C587.6,738 589.3,740.5 591.6,741.2C593.9,741.9 596,739.8 599,737C602,734.2 605.6,729.3 609.4,724.4C613.2,719.5 618.1,712.9 622,707.6C625.9,702.4 628.6,697.4 632.5,692.9C636.4,688.4 641.3,683.5 645.1,680.4C648.9,677.3 653.5,675.1 655.2,674.1" fill="none" stroke="#63bd3c" stroke-width="1.7"/><path d="M386.1,792.7C387.3,793.9 390.8,799.1 393.2,799.8C395.6,800.5 397.4,797.6 400.3,796.7C403.2,795.9 406.7,794.4 410.4,794.7C414.1,795 418.6,796.3 422.5,798.3C426.4,800.3 430.6,805.5 433.7,806.9C436.8,808.3 438.6,806.2 440.8,806.5C443,806.8 444.2,808.5 446.9,808.5C449.6,808.5 453.6,807.3 457,806.5C460.4,805.7 464.1,805.3 467.1,803.8C470.1,802.3 471.8,800.1 475.2,797.7C478.6,795.3 483.7,791 487.4,789.6C491.1,788.2 494.8,789.2 497.5,789.6C500.2,790 501.2,791.9 503.6,792.3C506,792.6 509,791.4 511.7,791.7C514.4,792 517.7,793.8 520,794.3C522.3,794.8 522.8,795.3 525.5,795C528.2,794.7 532.5,794.3 536,792.5C539.5,790.7 543.4,787.2 546.5,784.1C549.6,781 552,777.5 554.9,773.6C557.8,769.7 561.2,761.3 563.7,760.6C566.2,759.9 567.2,763.7 569.6,769.4C572,775.1 575.2,788.7 578,794.6C580.8,800.5 583.9,802.7 586.3,805C588.7,807.3 590.1,808.5 592.6,808.2C595.1,807.9 598.2,805.3 601,803C603.8,800.7 606.6,797.8 609.4,794.6C612.2,791.5 615,786.4 617.8,784.1C620.6,781.8 623.4,782.1 626.2,780.9C629,779.7 631.5,778.3 634.6,776.7C637.8,775.1 641.7,773.1 645.1,771.5C648.5,769.9 653.5,767.7 655.2,766.9" fill="none" stroke="#4fc3ea" stroke-width="1.7"/><path d="M386.1,802.8C387.8,803.3 392.1,805.4 396.2,805.8C400.2,806.2 406.7,804.9 410.4,805.2C414.1,805.6 415.6,806.3 418.5,807.9C421.4,809.5 425.1,813.9 427.6,814.6C430.1,815.3 430.7,811.3 433.7,811.9C436.7,812.5 442.2,817.3 445.8,818C449.4,818.7 451.8,817.2 455,816C458.2,814.8 461.1,813.4 465.1,810.9C469.2,808.4 475.2,802.6 479.3,800.8C483.4,798.9 486.4,799.8 489.4,799.8C492.4,799.8 494.8,799.8 497.5,800.8C500.2,801.8 502.7,804.7 505.6,805.8C508.5,806.9 511.3,807.1 515,807.6C518.7,808.1 524.1,809 527.6,808.8C531.1,808.5 533.7,806.5 536,806.1C538.3,805.7 538.8,808.6 541.2,806.1C543.7,803.6 547.7,795.4 550.7,791.4C553.7,787.4 556.8,784.6 559.1,782C561.4,779.4 562.4,775.4 564.3,775.7C566.2,776.1 568.3,779.6 570.6,784.1C572.9,788.6 575.4,797.6 578,803C580.6,808.4 583.5,813.9 586.3,816.6C589.1,819.3 591.6,819.3 594.7,819.3C597.9,819.3 602.1,819.3 605.2,816.6C608.4,813.9 610.8,806.3 613.6,803C616.4,799.7 619.2,797.9 622,796.7C624.8,795.5 627.2,796.8 630.4,795.6C633.5,794.4 637.8,791.2 640.9,789.3C644,787.4 646.9,784.7 649.3,784.1C651.7,783.5 654.2,785.4 655.2,785.7" fill="none" stroke="#4fc3ea" stroke-width="1.7"/><path d="M498.9,693.8V810M563.7,653V798" stroke="#222" stroke-width="1.8" stroke-dasharray="2.4,2"/><text x="498.3" y="691.1" text-anchor="middle" style="font-family:'Liberation Serif',serif;font-size:10.5px" fill="#222">781</text><text x="560.6" y="650.5" text-anchor="middle" style="font-family:'Liberation Serif',serif;font-size:10.5px" fill="#222">833</text><text x="619.9" y="754" style="font-family:'Liberation Serif',serif;font-size:10.5px" fill="#222">high V</text><path d="M640.9,712.9V736" stroke="#111" stroke-width="1.3"/><polygon points="637.6,734.5 644.2,734.5 640.9,741.2" fill="#111"/><path d="M393.2,648.2H410.4" stroke="#4fc3ea" stroke-width="2"/><path d="M393.2,658.4H410.4" stroke="#63bd3c" stroke-width="2"/><path d="M393.2,668.5H410.4" stroke="#e9dc35" stroke-width="2"/><text x="413.4" y="650.6" style="font-family:'Liberation Serif',serif;font-size:8.2px" fill="#222">turquoise</text><text x="413.4" y="660.8" style="font-family:'Liberation Serif',serif;font-size:8.2px" fill="#222">chalcosiderite</text><text x="413.4" y="670.8" style="font-family:'Liberation Serif',serif;font-size:8.2px" fill="#222">faustite</text></svg></body></html>
